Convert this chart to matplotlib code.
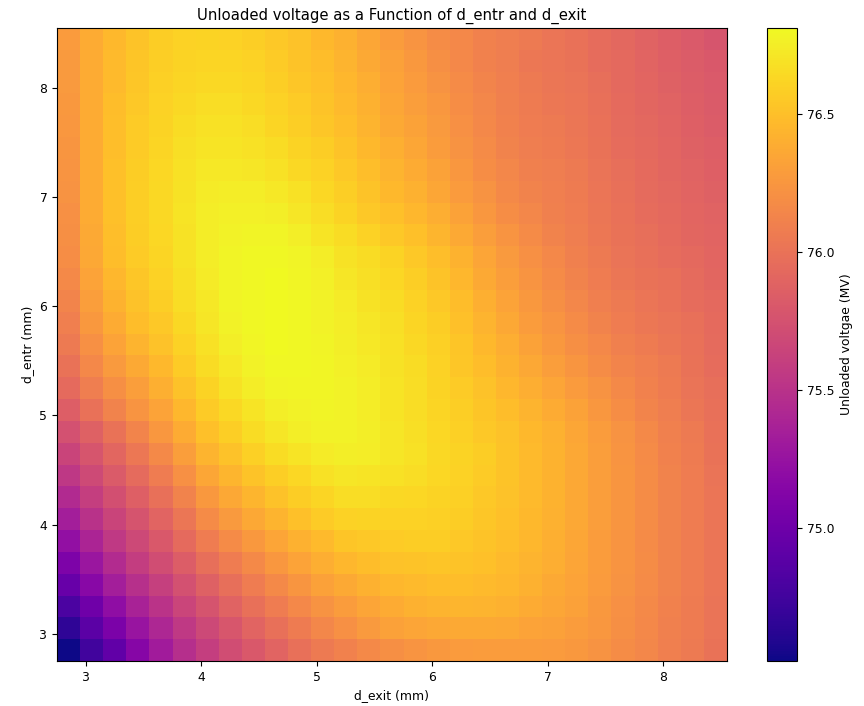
import numpy as np
import matplotlib
matplotlib.use("Agg")
import matplotlib.pyplot as plt

# Grid of gap settings (cell centres, mm)
d_exit = [2.85, 3.05, 3.25, 3.45, 3.65, 3.85, 4.05, 4.25, 4.45, 4.65,
          4.85, 5.05, 5.25, 5.45, 5.65, 5.85, 6.05, 6.25, 6.45, 6.65,
          6.85, 7.05, 7.25, 7.45, 7.65, 7.85, 8.05, 8.25, 8.45]
d_entr = [2.85, 3.05, 3.25, 3.45, 3.65, 3.85, 4.05, 4.25, 4.45, 4.65,
          4.85, 5.05, 5.25, 5.45, 5.65, 5.85, 6.05, 6.25, 6.45, 6.65,
          6.85, 7.05, 7.25, 7.45, 7.65, 7.85, 8.05, 8.25, 8.45]

# Unloaded voltage (MV); one row per d_entr value, one column per d_exit value
voltage = [
    [74.52, 74.75, 74.93, 75.14, 75.32, 75.47, 75.60, 75.71, 75.80, 75.89, 75.98, 76.05, 76.11, 76.16, 76.20, 76.23, 76.26, 76.28, 76.29, 76.29, 76.29, 76.28, 76.26, 76.22, 76.18, 76.14, 76.09, 76.05, 76.00],
    [74.66, 74.89, 75.08, 75.26, 75.41, 75.55, 75.68, 75.79, 75.89, 75.98, 76.06, 76.14, 76.21, 76.27, 76.31, 76.34, 76.36, 76.37, 76.37, 76.36, 76.33, 76.31, 76.29, 76.25, 76.20, 76.15, 76.10, 76.06, 76.01],
    [74.80, 75.01, 75.20, 75.37, 75.51, 75.65, 75.77, 75.88, 75.98, 76.07, 76.15, 76.22, 76.29, 76.34, 76.38, 76.41, 76.43, 76.44, 76.43, 76.41, 76.38, 76.35, 76.31, 76.26, 76.21, 76.16, 76.11, 76.06, 76.01],
    [74.96, 75.16, 75.34, 75.48, 75.61, 75.74, 75.87, 75.97, 76.07, 76.16, 76.24, 76.31, 76.37, 76.41, 76.45, 76.47, 76.48, 76.48, 76.47, 76.45, 76.41, 76.37, 76.33, 76.28, 76.22, 76.17, 76.12, 76.07, 76.02],
    [75.09, 75.28, 75.45, 75.59, 75.71, 75.84, 75.97, 76.07, 76.16, 76.25, 76.33, 76.39, 76.45, 76.48, 76.51, 76.52, 76.53, 76.52, 76.50, 76.47, 76.43, 76.39, 76.34, 76.29, 76.23, 76.18, 76.12, 76.07, 76.02],
    [75.22, 75.39, 75.55, 75.68, 75.80, 75.94, 76.07, 76.17, 76.26, 76.34, 76.41, 76.47, 76.53, 76.55, 76.56, 76.57, 76.57, 76.55, 76.52, 76.49, 76.45, 76.40, 76.35, 76.29, 76.23, 76.17, 76.12, 76.07, 76.02],
    [75.34, 75.50, 75.64, 75.77, 75.89, 76.03, 76.17, 76.27, 76.36, 76.43, 76.50, 76.56, 76.60, 76.61, 76.60, 76.60, 76.59, 76.57, 76.54, 76.50, 76.46, 76.41, 76.36, 76.30, 76.24, 76.18, 76.12, 76.07, 76.02],
    [75.44, 75.60, 75.73, 75.86, 75.98, 76.12, 76.26, 76.36, 76.44, 76.51, 76.57, 76.62, 76.66, 76.66, 76.64, 76.63, 76.61, 76.59, 76.55, 76.51, 76.47, 76.42, 76.36, 76.30, 76.24, 76.18, 76.12, 76.07, 76.02],
    [75.54, 75.69, 75.82, 75.95, 76.07, 76.21, 76.35, 76.44, 76.52, 76.58, 76.63, 76.68, 76.71, 76.70, 76.68, 76.66, 76.63, 76.60, 76.56, 76.52, 76.47, 76.42, 76.36, 76.30, 76.24, 76.18, 76.12, 76.07, 76.01],
    [75.64, 75.78, 75.91, 76.04, 76.16, 76.30, 76.43, 76.51, 76.59, 76.65, 76.70, 76.73, 76.75, 76.74, 76.71, 76.68, 76.64, 76.61, 76.57, 76.52, 76.47, 76.42, 76.36, 76.30, 76.23, 76.17, 76.11, 76.06, 76.00],
    [75.74, 75.87, 76.00, 76.13, 76.25, 76.38, 76.50, 76.58, 76.65, 76.71, 76.75, 76.77, 76.77, 76.75, 76.71, 76.67, 76.63, 76.59, 76.55, 76.51, 76.46, 76.41, 76.35, 76.29, 76.22, 76.16, 76.10, 76.05, 75.99],
    [75.85, 75.99, 76.12, 76.23, 76.33, 76.45, 76.56, 76.64, 76.70, 76.75, 76.77, 76.78, 76.77, 76.74, 76.70, 76.66, 76.62, 76.58, 76.53, 76.48, 76.43, 76.38, 76.32, 76.25, 76.19, 76.13, 76.08, 76.03, 75.98],
    [75.94, 76.08, 76.20, 76.30, 76.40, 76.51, 76.61, 76.69, 76.74, 76.78, 76.79, 76.79, 76.77, 76.74, 76.70, 76.66, 76.61, 76.56, 76.51, 76.45, 76.39, 76.34, 76.28, 76.22, 76.16, 76.11, 76.06, 76.01, 75.97],
    [76.00, 76.15, 76.27, 76.37, 76.46, 76.56, 76.65, 76.72, 76.77, 76.80, 76.80, 76.79, 76.76, 76.73, 76.69, 76.65, 76.60, 76.54, 76.48, 76.42, 76.36, 76.30, 76.24, 76.18, 76.13, 76.09, 76.05, 76.00, 75.96],
    [76.05, 76.21, 76.33, 76.43, 76.51, 76.60, 76.68, 76.75, 76.79, 76.81, 76.80, 76.78, 76.75, 76.72, 76.68, 76.64, 76.59, 76.53, 76.46, 76.39, 76.32, 76.26, 76.20, 76.15, 76.10, 76.06, 76.03, 75.99, 75.95],
    [76.09, 76.26, 76.38, 76.48, 76.55, 76.64, 76.71, 76.77, 76.80, 76.81, 76.80, 76.77, 76.74, 76.71, 76.67, 76.62, 76.57, 76.50, 76.43, 76.36, 76.29, 76.23, 76.17, 76.12, 76.07, 76.04, 76.01, 75.98, 75.94],
    [76.13, 76.30, 76.42, 76.51, 76.58, 76.66, 76.72, 76.78, 76.80, 76.81, 76.80, 76.77, 76.73, 76.69, 76.65, 76.60, 76.55, 76.48, 76.40, 76.33, 76.26, 76.20, 76.14, 76.09, 76.05, 76.02, 75.99, 75.96, 75.93],
    [76.16, 76.33, 76.45, 76.54, 76.60, 76.67, 76.73, 76.78, 76.80, 76.81, 76.79, 76.76, 76.71, 76.67, 76.63, 76.58, 76.52, 76.45, 76.37, 76.30, 76.23, 76.17, 76.12, 76.07, 76.03, 76.00, 75.98, 75.95, 75.91],
    [76.19, 76.36, 76.48, 76.56, 76.62, 76.69, 76.74, 76.78, 76.80, 76.80, 76.78, 76.74, 76.69, 76.65, 76.61, 76.55, 76.49, 76.42, 76.34, 76.27, 76.21, 76.15, 76.10, 76.05, 76.01, 75.98, 75.96, 75.93, 75.90],
    [76.20, 76.37, 76.49, 76.57, 76.63, 76.69, 76.74, 76.77, 76.78, 76.78, 76.75, 76.70, 76.65, 76.60, 76.55, 76.50, 76.44, 76.37, 76.30, 76.23, 76.17, 76.12, 76.08, 76.04, 76.00, 75.97, 75.94, 75.91, 75.89],
    [76.21, 76.38, 76.50, 76.58, 76.64, 76.70, 76.74, 76.76, 76.76, 76.75, 76.71, 76.66, 76.61, 76.55, 76.50, 76.45, 76.39, 76.32, 76.25, 76.19, 76.14, 76.10, 76.07, 76.03, 75.99, 75.96, 75.93, 75.90, 75.88],
    [76.22, 76.38, 76.50, 76.58, 76.64, 76.69, 76.73, 76.74, 76.74, 76.72, 76.68, 76.63, 76.58, 76.52, 76.46, 76.41, 76.35, 76.28, 76.22, 76.16, 76.12, 76.09, 76.06, 76.02, 75.98, 75.95, 75.92, 75.89, 75.87],
    [76.23, 76.38, 76.50, 76.57, 76.63, 76.68, 76.72, 76.72, 76.71, 76.68, 76.64, 76.60, 76.55, 76.49, 76.43, 76.38, 76.32, 76.25, 76.19, 76.14, 76.10, 76.08, 76.05, 76.01, 75.97, 75.94, 75.91, 75.88, 75.86],
    [76.24, 76.38, 76.49, 76.56, 76.62, 76.67, 76.70, 76.70, 76.68, 76.65, 76.61, 76.57, 76.52, 76.46, 76.40, 76.35, 76.29, 76.22, 76.17, 76.12, 76.08, 76.06, 76.04, 76.00, 75.96, 75.93, 75.90, 75.87, 75.85],
    [76.25, 76.38, 76.49, 76.56, 76.61, 76.65, 76.68, 76.68, 76.66, 76.62, 76.58, 76.54, 76.49, 76.43, 76.37, 76.32, 76.27, 76.21, 76.15, 76.11, 76.07, 76.05, 76.03, 75.99, 75.95, 75.92, 75.89, 75.86, 75.83],
    [76.26, 76.38, 76.48, 76.55, 76.60, 76.64, 76.66, 76.66, 76.64, 76.60, 76.56, 76.52, 76.47, 76.41, 76.35, 76.30, 76.25, 76.19, 76.14, 76.10, 76.06, 76.04, 76.02, 75.98, 75.94, 75.91, 75.88, 75.85, 75.82],
    [76.27, 76.38, 76.47, 76.54, 76.59, 76.62, 76.64, 76.64, 76.62, 76.58, 76.54, 76.50, 76.45, 76.39, 76.33, 76.28, 76.22, 76.17, 76.13, 76.09, 76.05, 76.03, 76.01, 75.97, 75.93, 75.90, 75.87, 75.84, 75.81],
    [76.27, 76.38, 76.47, 76.53, 76.58, 76.61, 76.62, 76.62, 76.60, 76.56, 76.52, 76.48, 76.43, 76.37, 76.31, 76.26, 76.20, 76.15, 76.11, 76.08, 76.04, 76.02, 76.00, 75.96, 75.93, 75.89, 75.86, 75.83, 75.80],
    [76.28, 76.38, 76.46, 76.52, 76.57, 76.60, 76.61, 76.60, 76.58, 76.55, 76.51, 76.46, 76.41, 76.35, 76.29, 76.23, 76.18, 76.15, 76.11, 76.08, 76.05, 76.02, 75.99, 75.96, 75.92, 75.88, 75.85, 75.81, 75.78],
]

x_ticks = [3, 4, 5, 6, 7, 8]
y_ticks = [3, 4, 5, 6, 7, 8]
cbar_ticks = [75.0, 75.5, 76.0, 76.5]

plt.rcParams["font.size"] = 8.9

fig = plt.figure(figsize=(8.64, 7.06), dpi=100)
ax = fig.add_axes([57 / 864, 45 / 706, 670 / 864, 633 / 706])
cax = fig.add_axes([767 / 864, 45 / 706, 30 / 864, 633 / 706])

mesh = ax.pcolormesh(d_exit, d_entr, np.array(voltage),
                     cmap="plasma", shading="nearest")
cbar = fig.colorbar(mesh, cax=cax)
cbar.set_ticks(cbar_ticks)
cbar.set_label("Unloaded voltgae (MV)")

ax.set_xticks(x_ticks)
ax.set_yticks(y_ticks)
ax.set_xlabel("d_exit (mm)")
ax.set_ylabel("d_entr (mm)")
ax.set_title("Unloaded voltage as a Function of d_entr and d_exit")

fig.savefig("out.png", dpi=100)
